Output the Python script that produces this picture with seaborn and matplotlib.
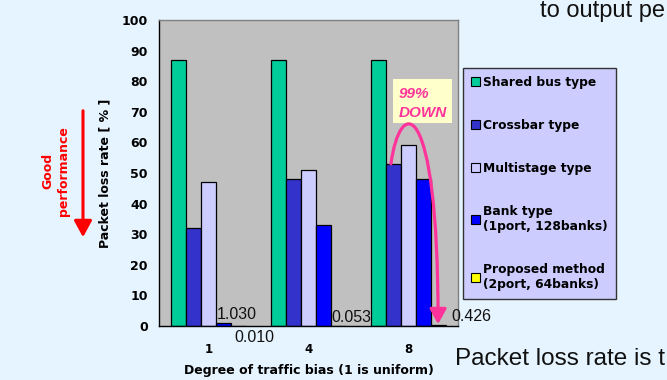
import matplotlib
matplotlib.use("Agg")
import matplotlib.pyplot as plt
import numpy as np
import pandas as pd
import seaborn as sns
from matplotlib.patches import Patch, FancyArrowPatch
from matplotlib.path import Path

# ---- data -------------------------------------------------------------
bias_levels = ["1", "4", "8"]
methods = [
    "Shared bus type",
    "Crossbar type",
    "Multistage type",
    "Bank type\n(1port, 128banks)",
    "Proposed method\n(2port, 64banks)",
]
shared_bus = [87, 87, 87]
crossbar = [32, 48, 53]
multistage = [47, 51, 59]
bank = [1.030, 33, 48]
proposed = [0.010, 0.053, 0.426]
method_colors = ["#00CC99", "#3333CC", "#CCCCFF", "#0000FF", "#FFFF00"]
y_ticks = list(range(0, 101, 10))

rows = []
for name, vals in zip(methods, [shared_bus, crossbar, multistage, bank, proposed]):
    for lvl, v in zip(bias_levels, vals):
        rows.append({"bias": lvl, "loss": v, "method": name})
df = pd.DataFrame(rows)

# ---- style ------------------------------------------------------------
sns.set_theme(style="white")
plt.rcParams["font.family"] = ["DejaVu Sans"]
plt.rcParams["text.color"] = "black"
plt.rcParams["axes.labelcolor"] = "black"
plt.rcParams["xtick.color"] = "black"
plt.rcParams["ytick.color"] = "black"
BG = "#E6F4FF"
PINK = "#FF3399"

W, H = 667, 380
fig = plt.figure(figsize=(W / 100, H / 100), dpi=100, facecolor=BG)
ax = fig.add_axes([159 / W, 1 - 326 / H, 299 / W, 306 / H])
ax.set_facecolor("#C0C0C0")

sns.barplot(
    data=df, x="bias", y="loss", hue="method", hue_order=methods,
    order=bias_levels, palette=method_colors, width=0.75, saturation=1,
    edgecolor="black", linewidth=0.9, errorbar=None, legend=False, ax=ax,
)

ax.set_xlim(-0.5, 2.5)
ax.set_ylim(0, 100)
ax.set_yticks(y_ticks)
ax.set_yticklabels([str(t) for t in y_ticks], fontsize=9, fontweight="bold")
ax.tick_params(axis="y", direction="out", length=4, width=0.8, pad=4, colors="black")
ax.set_xticks(range(len(bias_levels)))
ax.set_xticklabels(bias_levels, fontsize=8.5, fontweight="bold")
ax.tick_params(axis="x", which="major", length=0, pad=12)
ax.set_xticks([0.5, 1.5], minor=True)
ax.tick_params(axis="x", which="minor", direction="in", length=4, width=0.8, colors="black")

ax.set_ylabel("Packet loss rate [ % ]", fontsize=9, fontweight="bold", labelpad=7)
ax.set_xlabel("Degree of traffic bias (1 is uniform)", fontsize=9, fontweight="bold", labelpad=6)

for side in ["top", "right"]:
    ax.spines[side].set_color("#808080")
    ax.spines[side].set_linewidth(1.0)
for side in ["left", "bottom"]:
    ax.spines[side].set_color("black")
    ax.spines[side].set_linewidth(1.0)

# ---- value labels for the small bars ------------------------------------
lab_kw = dict(textcoords="offset points", fontsize=11.5, color="#111111",
              family="Liberation Sans", va="baseline", ha="left",
              annotation_clip=False)
bank_bars = ax.containers[3].patches
prop_bars = ax.containers[4].patches

b = bank_bars[0]
ax.annotate(f"{bank[0]:.3f}", xy=(b.get_x(), b.get_height()), xytext=(0.5, 2.5), **lab_kw)
p = prop_bars[0]
ax.annotate(f"{proposed[0]:.3f}", xy=(p.get_x(), 0), xytext=(2, -11.5), **lab_kw)
p = prop_bars[1]
ax.annotate(f"{proposed[1]:.3f}", xy=(p.get_x(), p.get_height()), xytext=(0.5, 2.8), **lab_kw)
p = prop_bars[2]
ax.annotate(f"{proposed[2]:.3f}", xy=(p.get_x() + p.get_width(), p.get_height()), xytext=(4, 2.8), **lab_kw)

# ---- "99% DOWN" callout and curved arrow --------------------------------
ax.add_patch(plt.Rectangle((393 / W, 1 - 123 / H), 59 / W, 44 / H,
                           transform=fig.transFigure, facecolor="#FFFFCC",
                           edgecolor="none", zorder=4))
fig.text(399 / W, 1 - 98 / H, "99%", fontsize=11, fontweight="bold", style="italic",
         family="Liberation Sans", color=PINK, va="baseline", zorder=5)
fig.text(399 / W, 1 - 117 / H, "DOWN", fontsize=11, fontweight="bold", style="italic",
         family="Liberation Sans", color=PINK, va="baseline", zorder=5)

cb = ax.containers[1].patches[2]
pb = prop_bars[2]
x0 = cb.get_x() + cb.get_width() * 0.35
y0 = cb.get_height()
x3 = pb.get_x() + pb.get_width() / 2
curve = Path(
    [(x0, y0), (x0 + 0.09, y0 + 22), (x3, y0 + 23), (x3, 0.6)],
    [Path.MOVETO, Path.CURVE4, Path.CURVE4, Path.CURVE4],
)
ax.add_patch(FancyArrowPatch(
    path=curve, arrowstyle="-|>,head_length=0.45,head_width=0.25",
    mutation_scale=20, color=PINK, lw=2.3, zorder=6, clip_on=False,
))

# ---- legend -------------------------------------------------------------
handles = [Patch(facecolor=c, edgecolor="black", linewidth=0.8) for c in method_colors]
leg = fig.legend(
    handles, methods, loc="upper left", bbox_to_anchor=(463 / W, 1 - 68 / H),
    frameon=True, fancybox=False, facecolor="#CCCCFF", edgecolor="#333333",
    prop={"size": 8.8, "weight": "bold"}, handlelength=0.7, handleheight=0.7,
    handletextpad=0.3, labelspacing=2.45, borderpad=0.65, borderaxespad=0,
    labelcolor="black",
)
leg.get_frame().set_linewidth(1.0)
leg.get_frame().set_alpha(1)

# ---- side annotation ----------------------------------------------------
fig.text(56 / W, 1 - 171 / H, "Good\nperformance", rotation=90, ha="center",
         va="center", multialignment="center", color="#FF0000",
         fontsize=9, fontweight="bold", linespacing=1.25)
fig.add_artist(FancyArrowPatch(
    (83 / W, 1 - 108 / H), (83 / W, 1 - 240 / H), transform=fig.transFigure,
    arrowstyle="-|>,head_length=0.55,head_width=0.3", mutation_scale=18,
    color="#FF0000", lw=2.2,
))

# ---- surrounding slide text ---------------------------------------------
fig.text(540 / W, 1 - 17 / H, "to output pe", fontsize=17,
         family="Liberation Sans", color="#111111", va="baseline")
fig.text(455 / W, 1 - 365 / H, "Packet loss rate is t", fontsize=17.5,
         family="Liberation Sans", color="#111111", va="baseline")

fig.savefig("out.png", dpi=100, facecolor=BG)
